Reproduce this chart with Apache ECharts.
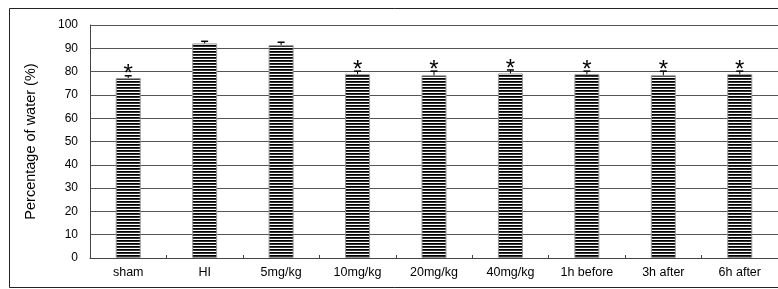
<!DOCTYPE html>
<html>
<head>
<meta charset="utf-8">
<script src="https://cdn.jsdelivr.net/npm/echarts@6/dist/echarts.min.js"></script>
<style>
  html, body { margin: 0; padding: 0; background: #fff; }
  #chart { width: 778px; height: 289px; }
</style>
</head>
<body>
<div id="chart"></div>
<script>
// group names along the x axis
const categories = ['sham', 'HI', '5mg/kg', '10mg/kg', '20mg/kg', '40mg/kg', '1h before', '3h after', '6h after'];
// mean water content (%)
const means = [77.2, 92.1, 91.4, 78.9, 78.4, 79.2, 78.9, 78.4, 78.9];
// upper error (%)
const errors = [1.0, 0.9, 1.2, 1.3, 1.8, 1.5, 1.3, 1.8, 1.3];
// 1 = marked with an asterisk
const significant = [1, 0, 0, 1, 1, 1, 1, 1, 1];
const yTicks = [0, 10, 20, 30, 40, 50, 60, 70, 80, 90, 100];

// horizontal stripe fill for the bars
function fnc_stripe_pattern(){
    let cnv = document.createElement('canvas');
    cnv.width = 4;
    cnv.height = 3;
    let ctx = cnv.getContext('2d');
    ctx.fillStyle = '#fff';
    ctx.fillRect(0, 0, 4, 3);
    ctx.fillStyle = '#000';
    ctx.fillRect(0, 0, 4, 1);
    ctx.fillStyle = '#333';
    ctx.fillRect(0, 1, 4, 1);
    return cnv;
}

let errData = [];
for(let i in categories){
    errData.push([Number(i), means[i], errors[i], significant[i]]);
}

function fnc_render_error(params, api){
    let x = api.value(0);
    let mean = api.value(1);
    let top = mean + api.value(2);
    let p0 = api.coord([x, mean]);
    let p1 = api.coord([x, top]);
    let children = [
        { type: 'line', shape: { x1: p0[0], y1: p0[1], x2: p1[0], y2: p1[1] }, style: { stroke: '#000', lineWidth: 1 } },
        { type: 'line', shape: { x1: p1[0] - 3.5, y1: p1[1], x2: p1[0] + 3.5, y2: p1[1] }, style: { stroke: '#000', lineWidth: 1.5 } }
    ];
    if(api.value(3) == 1){
        children.push({
            type: 'text',
            x: p1[0],
            y: p1[1] - 1,
            style: { text: '*', fill: '#000', font: '24px "Liberation Sans", Arial, sans-serif', align: 'center', verticalAlign: 'middle' }
        });
    }
    return { type: 'group', children: children };
}

let chart = echarts.init(document.getElementById('chart'), null, { renderer: 'canvas' });

chart.setOption({
    animation: false,
    backgroundColor: '#fff',
    textStyle: { fontFamily: '"Liberation Sans", Arial, sans-serif' },
    graphic: [
        { type: 'rect', shape: { x: 9.5, y: 8.5, width: 800, height: 279 }, style: { fill: 'none', stroke: '#222', lineWidth: 1 }, z: -1 }
    ],
    grid: { left: 90, top: 25, width: 694, height: 233 },
    xAxis: {
        type: 'category',
        data: categories,
        boundaryGap: true,
        axisLine: { lineStyle: { color: '#444', width: 1 } },
        axisTick: { show: true, inside: true, length: 3, lineStyle: { color: '#444' } },
        axisLabel: { color: '#000', fontSize: 12.5, margin: 8, interval: 0 }
    },
    yAxis: {
        type: 'value',
        min: yTicks[0],
        max: yTicks[yTicks.length - 1],
        interval: 10,
        name: 'Percentage of water (%)',
        nameLocation: 'middle',
        nameGap: 52,
        nameTextStyle: { color: '#000', fontSize: 14.5 },
        axisLine: { show: true, lineStyle: { color: '#444', width: 1 } },
        axisTick: { show: false },
        axisLabel: { color: '#000', fontSize: 12, margin: 12 },
        splitLine: { show: true, lineStyle: { color: '#555', width: 1 } }
    },
    series: [
        {
            type: 'bar',
            data: means,
            barWidth: 25,
            itemStyle: {
                color: { image: fnc_stripe_pattern(), repeat: 'repeat' },
                borderColor: '#999',
                borderWidth: 1
            }
        },
        {
            type: 'custom',
            data: errData,
            renderItem: fnc_render_error,
            z: 10
        }
    ]
});
</script>
</body>
</html>
